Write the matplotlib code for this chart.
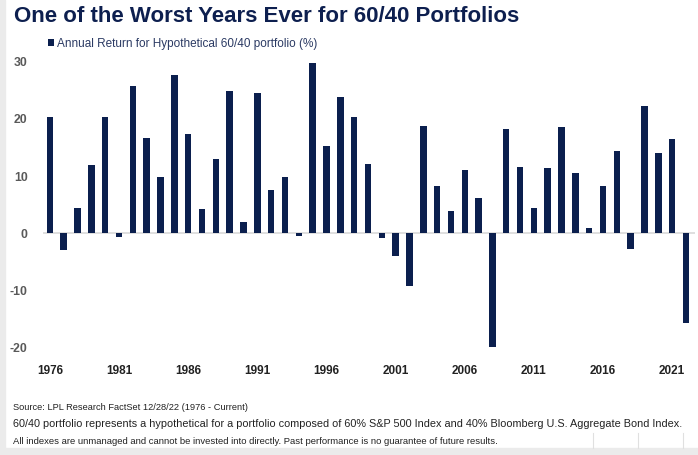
import matplotlib.pyplot as plt
from matplotlib.patches import Rectangle

years = list(range(1976, 2023))
returns = [20.4, -3.0, 4.5, 12.0, 20.4, -0.6, 25.8, 16.7, 9.9, 27.7,
           17.3, 4.3, 13.0, 24.8, 1.9, 24.6, 7.6, 9.9, -0.4, 29.7,
           15.3, 23.8, 20.4, 12.2, -0.9, -3.9, -9.3, 18.8, 8.3, 3.9,
           11.1, 6.2, -19.8, 18.2, 11.6, 4.5, 11.4, 18.6, 10.5, 1.0,
           8.3, 14.4, -2.7, 22.2, 14.0, 16.5, -15.7]
tick_years = list(range(1976, 2022, 5))
yticks = [-20, -10, 0, 10, 20, 30]

navy = '#0b1f4e'
plt.rcParams['font.family'] = ['Liberation Sans', 'DejaVu Sans']

fig = plt.figure(figsize=(6.98, 4.55), dpi=100)
ax = fig.add_axes([43/698, 1-353.4/455, 652/698, (353.4-56)/455])

ax.bar(years, returns, width=0.47, color=navy, label='Annual Return for Hypothetical 60/40 portfolio (%)', zorder=3)
ax.axhline(0, color='#d9d9d9', lw=1.2, zorder=2)

ax.set_xlim(1975.5, 2022.65)
ax.set_ylim(-21, 31)
ax.set_xticks(tick_years)
ax.set_xticklabels([str(y) for y in tick_years], fontsize=8.5, fontweight='bold', color='#222222')
ax.set_yticks(yticks)
ax.set_yticklabels([str(v) for v in yticks], fontsize=8.8, fontweight='bold', color='#595959')
ax.tick_params(axis='both', length=0)
ax.tick_params(axis='y', pad=11)
ax.tick_params(axis='x', pad=8)
for s in ax.spines.values():
    s.set_visible(False)

leg = ax.legend(loc='upper left', bbox_to_anchor=(48/698, 1-38/455), bbox_transform=fig.transFigure,
                frameon=False, fontsize=8.5, handlelength=0.55, handleheight=0.55, handletextpad=0.25,
                borderaxespad=0, borderpad=0)
for t in leg.get_texts():
    t.set_color('#2b3a63')

fig.text(14/698, 1-17/455, 'One of the Worst Years Ever for 60/40 Portfolios', fontsize=16,
         fontweight='bold', color='#0d1f4f', va='center', ha='left')

fig.text(13/698, 1-407/455, 'Source: LPL Research FactSet 12/28/22 (1976 - Current)',
         fontsize=6.7, color='#222222', va='center')
fig.text(13/698, 1-424/455, '60/40 portfolio represents a hypothetical for a portfolio composed of 60% S&P 500 Index and 40% Bloomberg U.S. Aggregate Bond Index.',
         fontsize=7.8, color='#222222', va='center')
fig.text(13/698, 1-441/455, 'All indexes are unmanaged and cannot be invested into directly. Past performance is no guarantee of future results.',
         fontsize=6.8, color='#222222', va='center')

# page edges
fig.patches.append(Rectangle((0, 0), 5/698, 1, transform=fig.transFigure, color='#ebebeb', zorder=0))
fig.patches.append(Rectangle((0, 0), 1, 7/455, transform=fig.transFigure, color='#ebebeb', zorder=0))
for x in [593, 638, 683]:
    fig.add_artist(plt.Line2D([x/698, x/698], [1-448/455, 1-433/455], transform=fig.transFigure,
                              color='#e0e0e0', lw=0.8))

fig.savefig('out.png', dpi=100)
